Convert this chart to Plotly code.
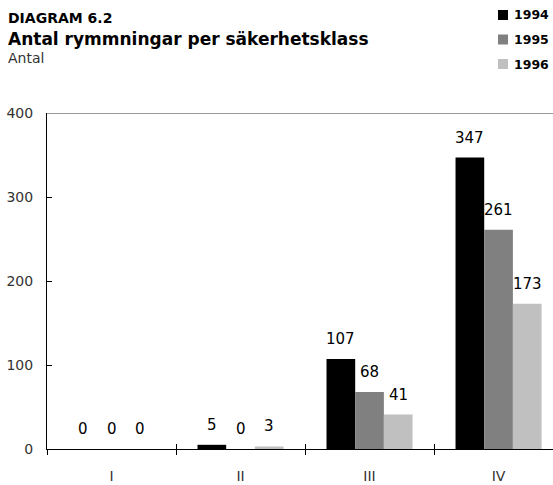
import plotly.graph_objects as go

categories = ["I", "II", "III", "IV"]
years = ["1994", "1995", "1996"]
values_1994 = [0, 5, 107, 347]
values_1995 = [0, 0, 68, 261]
values_1996 = [0, 3, 41, 173]
y_ticks = [0, 100, 200, 300, 400]

series = [values_1994, values_1995, values_1996]
colors = ["#000000", "#808080", "#c0c0c0"]
xpos = list(range(len(categories)))
FONT = "DejaVu Sans, Verdana, sans-serif"
BARGAP = 0.333

FIG_W, FIG_H = 553, 485
L, T, B = 47, 113, 36
W = FIG_W - L
H = FIG_H - T - B


def px_x(px):
    return (px - L) / W


def px_y(py):
    return 1 - (py - T) / H


fig = go.Figure()
for name, vals, col in zip(years, series, colors):
    fig.add_trace(go.Bar(
        x=xpos, y=vals, name=name, marker=dict(color=col, line=dict(width=0)),
        showlegend=False, hovertemplate=name + ": %{y}<extra></extra>",
    ))

# value labels above bars
n = len(series)
bw = (1 - BARGAP) / n
for i, vals in enumerate(series):
    off = (i - (n - 1) / 2) * bw
    for xc, v in zip(xpos, vals):
        fig.add_annotation(x=xc + off, y=v, xref="x", yref="y", text=str(v),
                           showarrow=False, yanchor="middle", xanchor="center",
                           yshift=20,
                           font=dict(family=FONT, size=15, color="#000000"))

# invisible helper trace on overlay axis (for inward tick marks)
fig.add_trace(go.Scatter(x=[xpos[0]], y=[0], xaxis="x2", yaxis="y",
                         mode="markers", marker=dict(opacity=0), showlegend=False,
                         hoverinfo="skip"))

boundaries = [i - 0.5 for i in range(len(categories) + 1)]
xrange = [-0.5, len(categories) - 0.5 - 0.078]

fig.update_layout(
    width=FIG_W, height=FIG_H,
    margin=dict(l=L, r=0, t=T, b=B),
    paper_bgcolor="white", plot_bgcolor="white",
    barmode="group", bargap=BARGAP, bargroupgap=0,
    font=dict(family=FONT, size=14, color="#333333"),
    xaxis=dict(
        range=xrange, tickmode="array", tickvals=xpos, ticktext=categories,
        ticks="", showgrid=False, zeroline=False,
        showline=True, linecolor="#000000", linewidth=1,
        ticklabelstandoff=14,
        tickfont=dict(family=FONT, size=14, color="#333333"),
        minor=dict(tickmode="array", tickvals=boundaries, ticks="outside",
                   ticklen=5, tickcolor="#000000", tickwidth=1, showgrid=False),
    ),
    xaxis2=dict(
        overlaying="x", anchor="y", side="bottom", range=xrange,
        tickmode="array", tickvals=boundaries, ticks="inside", ticklen=5,
        tickcolor="#000000", tickwidth=1, showticklabels=False,
        showgrid=False, zeroline=False, showline=False,
    ),
    yaxis=dict(
        range=[0, 400], tickmode="array", tickvals=y_ticks,
        ticks="inside", ticklen=5, tickcolor="#000000",
        showgrid=False, zeroline=False,
        showline=True, linecolor="#000000", linewidth=1,
        ticklabelstandoff=10,
        tickfont=dict(family=FONT, size=14, color="#333333"),
    ),
)

# top border line (gray)
fig.add_shape(type="line", xref="paper", yref="y", x0=0, x1=1, y0=400, y1=400,
              line=dict(color="#777777", width=1.5))

# titles
fig.add_annotation(text="<b>DIAGRAM 6.2</b>", xref="paper", yref="paper",
                   x=px_x(6), y=px_y(18), xanchor="left", yanchor="middle",
                   showarrow=False, font=dict(family=FONT, size=14, color="#000000"))
fig.add_annotation(text="<b>Antal rymmningar per säkerhetsklass</b>", xref="paper", yref="paper",
                   x=px_x(6), y=px_y(39), xanchor="left", yanchor="middle",
                   showarrow=False, font=dict(family=FONT, size=17, color="#000000"))
fig.add_annotation(text="Antal", xref="paper", yref="paper",
                   x=px_x(6), y=px_y(58), xanchor="left", yanchor="middle",
                   showarrow=False, font=dict(family=FONT, size=14, color="#333333"))

# legend (manual)
for i, (name, col) in enumerate(zip(years, colors)):
    yc = 15 + i * 24.5
    fig.add_shape(type="rect", xref="paper", yref="paper",
                  x0=px_x(498), x1=px_x(508),
                  y0=px_y(yc + 5), y1=px_y(yc - 5),
                  fillcolor=col, line=dict(width=0))
    fig.add_annotation(text=f"<b>{name}</b>", xref="paper", yref="paper",
                       x=px_x(512), y=px_y(yc), xanchor="left", yanchor="middle",
                       showarrow=False, font=dict(family=FONT, size=12.5, color="#000000"))

fig.write_html(
    "out.html",
    config={"displayModeBar": False},
    post_script="document.body.style.margin='0';document.body.style.overflow='hidden';",
)
